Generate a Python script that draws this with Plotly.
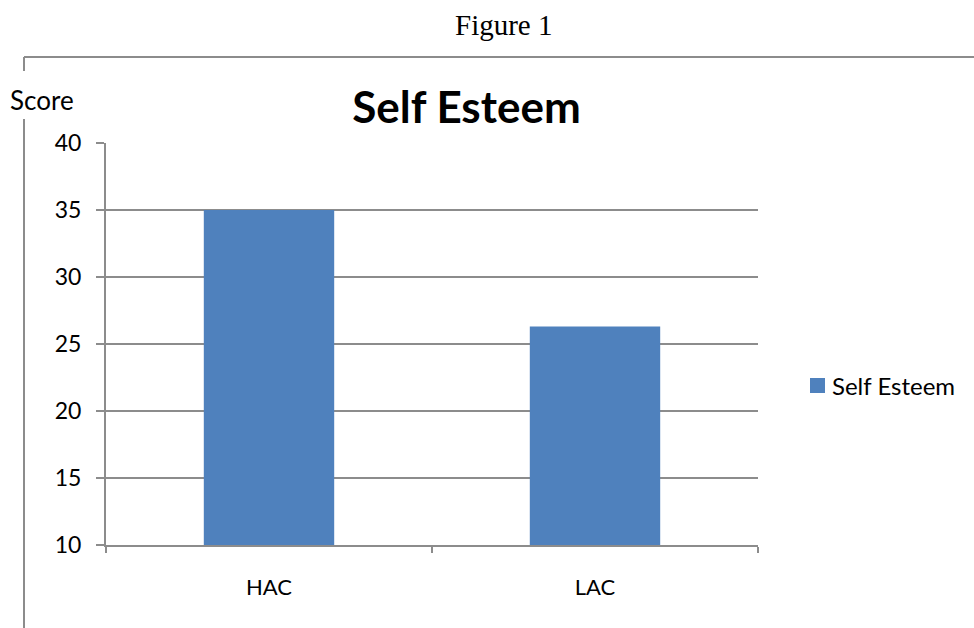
import plotly.graph_objects as go

categories = ["HAC", "LAC"]
self_esteem = [35.0, 26.3]
series_name = "Self Esteem"
y_ticks = [10, 15, 20, 25, 30, 35, 40]

W, H = 974, 628
L, R, T, B = 106, 758, 143, 545  # plot area in pixels

def px(x):
    return (x - L) / (R - L)

def py(y):
    return (B - y) / (B - T)

FONT = "Lato"
GRAY = "#8c8c8c"
BAR_COLOR = "#4F81BD"

fig = go.Figure()
fig.add_trace(go.Bar(
    x=categories, y=self_esteem, name=series_name,
    marker=dict(color=BAR_COLOR, line=dict(width=0)),
    width=0.4, showlegend=False,
))

fig.update_layout(
    width=W, height=H,
    margin=dict(l=L, r=W - R, t=T, b=H - B),
    paper_bgcolor="white", plot_bgcolor="white",
    font=dict(family=FONT, size=22, color="black"),
    showlegend=False,
    title=dict(text="<b>Self Esteem</b>", x=px(466.5), xref="paper", xanchor="center",
               y=1 - 108 / H, yanchor="middle", font=dict(family=FONT, size=44)),
    xaxis=dict(showline=True, linecolor=GRAY, linewidth=2, ticks="outside",
               tickson="boundaries", ticklen=6, tickcolor=GRAY, tickwidth=2,
               showgrid=False, tickfont=dict(size=22), ticklabelstandoff=22),
    yaxis=dict(range=[10, 40], tickvals=y_ticks, showline=True, linecolor=GRAY, linewidth=2,
               ticks="outside", ticklen=8, tickcolor=GRAY, tickwidth=2,
               showgrid=True, gridcolor=GRAY, gridwidth=2, zeroline=False,
               tickfont=dict(size=23), ticklabelstandoff=10),
    bargap=0.6,
)

# legend (drawn manually to match the original's compact key)
fig.add_shape(type="rect", xref="paper", yref="paper",
              x0=px(810), x1=px(825), y0=py(393), y1=py(378),
              fillcolor=BAR_COLOR, line=dict(width=0))
fig.add_annotation(text=series_name, xref="paper", yref="paper", x=px(830), y=py(385),
                   showarrow=False, xanchor="left", yanchor="middle",
                   font=dict(family=FONT, size=24))

fig.add_annotation(text="Figure 1", xref="paper", yref="paper", x=px(503.5), y=py(25),
                   showarrow=False, xanchor="center", yanchor="middle",
                   font=dict(family="Liberation Serif", size=29))
fig.add_annotation(text="Score", xref="paper", yref="paper", x=px(41.5), y=py(100),
                   showarrow=False, xanchor="center", yanchor="middle",
                   font=dict(family=FONT, size=26))

line = dict(color=GRAY, width=2)
fig.add_shape(type="line", xref="paper", yref="paper", x0=px(24), x1=px(974), y0=py(57), y1=py(57), line=line)
fig.add_shape(type="line", xref="paper", yref="paper", x0=px(24), x1=px(24), y0=py(57), y1=py(71), line=line)
fig.add_shape(type="line", xref="paper", yref="paper", x0=px(24), x1=px(24), y0=py(119), y1=py(628), line=line)

fig.write_html("out.html", config={"displayModeBar": False},
               post_script="document.body.style.margin='0';")
